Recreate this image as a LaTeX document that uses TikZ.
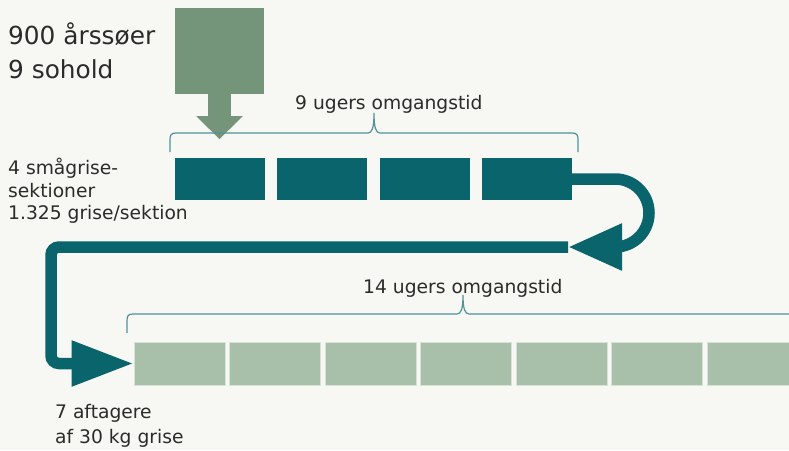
\documentclass[tikz,border=0pt]{standalone}
\usepackage{fontspec}
\setmainfont{DejaVu Sans}
\usepackage{tikz}
\usetikzlibrary{arrows.meta}

\definecolor{bgcol}{HTML}{F7F7F3}
\definecolor{txtcol}{HTML}{2B2B2B}
\definecolor{sowgreen}{HTML}{75957A}
\definecolor{pigteal}{HTML}{0A646C}
\definecolor{fingreen}{HTML}{A8BFAA}
\definecolor{bracecol}{HTML}{4F9399}

\begin{document}
\begin{tikzpicture}[x=1pt,y=-1pt,
    lbl/.style={text=txtcol,inner sep=0pt,align=left},
    weanbox/.style={rectangle,fill=pigteal,minimum width=90pt,minimum height=42pt,inner sep=0pt},
    finbox/.style={rectangle,fill=fingreen,draw=white!55!fingreen,line width=0.8pt,minimum width=91pt,minimum height=43pt,inner sep=0pt},
    bracepath/.style={draw=bracecol,line width=1.2pt},
    flow/.style={draw=pigteal,line width=11.5pt}]
    \useasboundingbox (0,0) rectangle (789,450);
    \clip (0,0) rectangle (789,450);
    \fill[bgcol] (0,0) rectangle (789,450);

    \node[fill=sowgreen,minimum width=89pt,minimum height=86pt,inner sep=0pt] (sows) at (219.5,51) {};
    \draw[sowgreen,line width=23pt,-{Triangle[width=45pt,length=23pt]}] (sows.south) -- ++(0,45);

    \foreach \i in {1,...,4}
        \node[weanbox] (wean\i) at ({220+102.3*(\i-1)},179) {};
    \foreach \i in {1,...,7}
        \node[finbox] (fin\i) at ({179.5+95.5*(\i-1)},363.5) {};

    \draw[bracepath] (170,152) -- (170,140) .. controls (170,135) and (171,133) .. (176,133)
        -- (368,133) .. controls (372,133) and (374,128) .. (374,113)
        .. controls (374,128) and (376,133) .. (380,133)
        -- (572,133) .. controls (577,133) and (578,135) .. (578,140) -- (578,152);
    \draw[bracepath] (127,333) -- (127,321) .. controls (127,316) and (128,314) .. (133,314)
        -- (457,314) .. controls (461,314) and (463,309) .. (463,295)
        .. controls (463,309) and (465,314) .. (469,314) -- (800,314);

    \node[lbl,font=\fontsize{18.7}{22}\selectfont,anchor=base west] (weantime) at (295,109) {9 ugers omgangstid};
    \node[lbl,font=\fontsize{18.7}{22}\selectfont,anchor=base west] (fintime) at (363,293) {14 ugers omgangstid};

    \coordinate (turn) at (568,247);
    \draw[flow,rounded corners=34pt,-{Triangle[width=44pt,length=54pt]}] (wean4.east) -- (649,179) -- (649,247) -- (turn);
    \draw[flow,rounded corners=8pt,-{Triangle[width=43pt,length=62pt]}] (turn) -- (51,247) |- (fin1.west);

    \node[lbl,font=\fontsize{24.8}{34}\selectfont,anchor=north west] (herd) at (8,23) {900 årssøer\\9 sohold};
    \node[lbl,font=\fontsize{18.7}{22.5}\selectfont,anchor=north west] (weaninfo) at (8,158) {4 smågrise-\\sektioner\\1.325 grise/sektion};
    \node[lbl,font=\fontsize{18.7}{25}\selectfont,anchor=north west] (buyers) at (55,404) {7 aftagere\\af 30 kg grise};
\end{tikzpicture}
\end{document}
